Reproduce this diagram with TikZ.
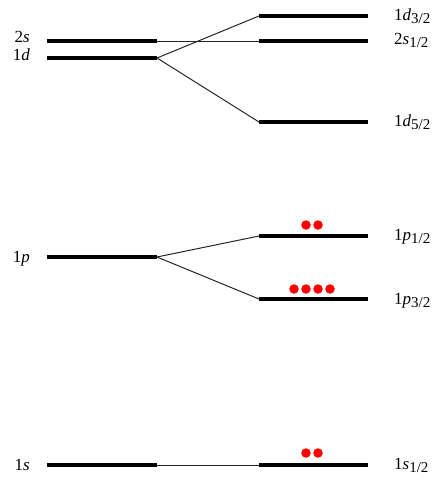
\documentclass[tikz,border=0pt]{standalone}
\usepackage{fontspec}
\setmainfont{Liberation Serif}
\newcommand{\orb}[3]{#1\textit{#2}\raisebox{-0.5ex}{\fontsize{15}{15}\selectfont #3}}
\begin{document}
\begin{tikzpicture}[x=1pt,y=-1pt,
  level/.style={line width=4pt},
  link/.style={line width=1pt, black!85},
  electron/.style={circle, fill=red, inner sep=0pt, minimum size=9.5pt},
  lbl/.style={font=\fontsize{17}{18}\selectfont, inner sep=0pt},
]
\useasboundingbox (0,0) rectangle (440,480);

% unsplit shells (left column)
\coordinate (s2a) at (47,41);   \coordinate (s2b) at (157,41);
\coordinate (d1a) at (47,58);   \coordinate (d1b) at (157,58);
\coordinate (p1a) at (47,257);  \coordinate (p1b) at (157,257);
\coordinate (s1a) at (47,465);  \coordinate (s1b) at (157,465);

% spin-orbit split levels (right column)
\coordinate (d32a) at (259,16);  \coordinate (d32b) at (368,16);
\coordinate (s12a) at (259,41);  \coordinate (s12b) at (368,41);
\coordinate (d52a) at (259,122); \coordinate (d52b) at (368,122);
\coordinate (p12a) at (259,236); \coordinate (p12b) at (368,236);
\coordinate (p32a) at (259,299); \coordinate (p32b) at (368,299);
\coordinate (ss12a) at (259,465);\coordinate (ss12b) at (368,465);

% connecting lines
\draw[link] (s2b) -- (s12a);
\draw[link] (d1b) -- (d32a);
\draw[link] (d1b) -- (d52a);
\draw[link] (p1b) -- (p12a);
\draw[link] (p1b) -- (p32a);
\draw[link] (s1b) -- (ss12a);

% level bars
\foreach \a/\b in {s2a/s2b, d1a/d1b, p1a/p1b, s1a/s1b,
                   d32a/d32b, s12a/s12b, d52a/d52b, p12a/p12b, p32a/p32b, ss12a/ss12b}
  \draw[level] (\a) -- (\b);

% left labels
\node[lbl, anchor=base east] (ls2) at (30,42) {2\textit{s}};
\node[lbl, anchor=base east] (ld1) at (30,60) {1\textit{d}};
\node[lbl, anchor=base east] (lp1) at (30,262) {1\textit{p}};
\node[lbl, anchor=base east] (ls1) at (30,470) {1\textit{s}};

% right labels
\node[lbl, anchor=base west] (rd32) at (394,20) {\orb{1}{d}{3/2}};
\node[lbl, anchor=base west] (rs12) at (394,44) {\orb{2}{s}{1/2}};
\node[lbl, anchor=base west] (rd52) at (394,126) {\orb{1}{d}{5/2}};
\node[lbl, anchor=base west] (rp12) at (394,240) {\orb{1}{p}{1/2}};
\node[lbl, anchor=base west] (rp32) at (394,304) {\orb{1}{p}{3/2}};
\node[lbl, anchor=base west] (rs1) at (394,469) {\orb{1}{s}{1/2}};

% occupying nucleons
\node[electron] (e1) at (306,225) {};
\node[electron] (e2) at (318,225) {};
\node[electron] (e3) at (294,289) {};
\node[electron] (e4) at (306,289) {};
\node[electron] (e5) at (318,289) {};
\node[electron] (e6) at (330,289) {};
\node[electron] (e7) at (306,453) {};
\node[electron] (e8) at (318,453) {};
\end{tikzpicture}
\end{document}
